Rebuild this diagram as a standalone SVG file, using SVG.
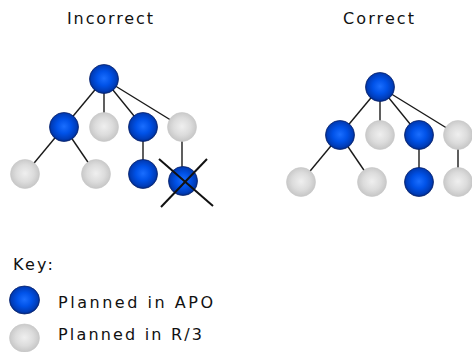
<svg xmlns="http://www.w3.org/2000/svg" width="472" height="352" viewBox="0 0 472 352">
  <defs>
    <radialGradient id="blueFill" cx="50%" cy="48%" r="55%">
      <stop offset="0" stop-color="#1a6eff"/>
      <stop offset="0.45" stop-color="#0052e8"/>
      <stop offset="0.8" stop-color="#003cb8"/>
      <stop offset="1" stop-color="#00216e"/>
    </radialGradient>
    <radialGradient id="grayFill" cx="50%" cy="48%" r="55%">
      <stop offset="0" stop-color="#efefef"/>
      <stop offset="0.55" stop-color="#dcdcdc"/>
      <stop offset="1" stop-color="#c3c3c3"/>
    </radialGradient>
  </defs>
  <style>
    .apo { fill: url(#blueFill); stroke: #0a2470; stroke-width: 0.8; }
    .r3 { fill: url(#grayFill); stroke: #c8c8c8; stroke-width: 0.6; }
    .edge { stroke: #1a1a1a; stroke-width: 1.4; fill: none; }
    .cross { stroke: #111; stroke-width: 2; }
    .label { font-family: "DejaVu Sans", "Liberation Sans", sans-serif; font-size: 16px; fill: #111; }
  </style>

  <rect width="472" height="352" fill="#ffffff"/>

  <!-- titles -->
  <text class="label" x="67" y="24" textLength="86" lengthAdjust="spacing">Incorrect</text>
  <text class="label" x="343" y="24" textLength="71" lengthAdjust="spacing">Correct</text>

  <!-- connectors of both trees -->
  <g id="connectors">
    <g id="incorrect-edges">
      <line class="edge" x1="104" y1="79" x2="64" y2="127"/>
      <line class="edge" x1="104" y1="79" x2="104" y2="127"/>
      <line class="edge" x1="104" y1="79" x2="143" y2="127"/>
      <line class="edge" x1="104" y1="79" x2="182" y2="127"/>
      <line class="edge" x1="64" y1="127" x2="25" y2="174"/>
      <line class="edge" x1="64" y1="127" x2="96" y2="174"/>
      <line class="edge" x1="143" y1="127" x2="143" y2="174"/>
      <line class="edge" x1="182" y1="127" x2="182" y2="181"/>
    </g>
    <g id="correct-edges">
      <line class="edge" x1="380" y1="87" x2="340" y2="135"/>
      <line class="edge" x1="380" y1="87" x2="380" y2="135"/>
      <line class="edge" x1="380" y1="87" x2="419" y2="135"/>
      <line class="edge" x1="380" y1="87" x2="458" y2="135"/>
      <line class="edge" x1="340" y1="135" x2="301" y2="182"/>
      <line class="edge" x1="340" y1="135" x2="372" y2="182"/>
      <line class="edge" x1="419" y1="135" x2="419" y2="182"/>
      <line class="edge" x1="458" y1="135" x2="458" y2="182"/>
    </g>
  </g>

  <!-- incorrect tree -->
  <g id="inc-root"><circle class="apo" cx="104" cy="79" r="14.5"/></g>
  <g id="inc-a"><circle class="apo" cx="64" cy="127" r="14.5"/></g>
  <g id="inc-b"><circle class="r3" cx="104" cy="127" r="14.5"/></g>
  <g id="inc-c"><circle class="apo" cx="143" cy="127" r="14.5"/></g>
  <g id="inc-d"><circle class="r3" cx="182" cy="127" r="14.5"/></g>
  <g id="inc-a1"><circle class="r3" cx="25" cy="174" r="14.5"/></g>
  <g id="inc-a2"><circle class="r3" cx="96" cy="174" r="14.5"/></g>
  <g id="inc-c1"><circle class="apo" cx="143" cy="174" r="14.5"/></g>
  <g id="inc-d1">
    <circle class="apo" cx="183" cy="181" r="14.5"/>
    <line class="cross" x1="159" y1="159" x2="213" y2="206"/>
    <line class="cross" x1="207" y1="159" x2="161" y2="207"/>
  </g>

  <!-- correct tree -->
  <g id="cor-root"><circle class="apo" cx="380" cy="87" r="14.5"/></g>
  <g id="cor-a"><circle class="apo" cx="340" cy="135" r="14.5"/></g>
  <g id="cor-b"><circle class="r3" cx="380" cy="135" r="14.5"/></g>
  <g id="cor-c"><circle class="apo" cx="419" cy="135" r="14.5"/></g>
  <g id="cor-d"><circle class="r3" cx="458" cy="135" r="14.5"/></g>
  <g id="cor-a1"><circle class="r3" cx="301" cy="182" r="14.5"/></g>
  <g id="cor-a2"><circle class="r3" cx="372" cy="182" r="14.5"/></g>
  <g id="cor-c1"><circle class="apo" cx="419" cy="182" r="14.5"/></g>
  <g id="cor-d1"><circle class="r3" cx="458" cy="182" r="14.5"/></g>

  <!-- key -->
  <g id="key">
    <text class="label" x="13" y="270" textLength="40" lengthAdjust="spacing">Key:</text>
    <g id="key-apo">
      <ellipse class="apo" cx="24.5" cy="300" rx="15" ry="14"/>
      <text class="label" x="58" y="308" textLength="155" lengthAdjust="spacing">Planned in APO</text>
    </g>
    <g id="key-r3">
      <ellipse class="r3" cx="24.5" cy="338" rx="15" ry="14"/>
      <text class="label" x="58" y="340" textLength="144" lengthAdjust="spacing">Planned in R/3</text>
    </g>
  </g>
</svg>
